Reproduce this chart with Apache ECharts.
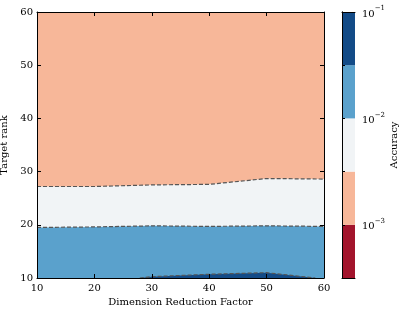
<!DOCTYPE html>
<html><head><meta charset="utf-8">
<script src="https://cdn.jsdelivr.net/npm/echarts@6/dist/echarts.min.js"></script>
<style>html,body{margin:0;padding:0;background:#fff}#c{width:407px;height:315px}</style>
</head><body><div id="c"></div>
<script>
// x positions of contour samples
const xTicks = [10, 20, 30, 40, 50, 60];
const yTicks = [10, 20, 30, 40, 50, 60];
// contour boundary: 10^-2.5 level (salmon above / white below)
const boundaryHigh = [[10, 27.2], [20, 27.2], [30, 27.5], [40, 27.6], [50, 28.7], [60, 28.6]];
// contour boundary: 10^-2 level (white above / light blue below)
const boundaryMid = [[10, 19.5], [20, 19.6], [30, 19.8], [40, 19.7], [50, 19.8], [60, 19.7]];
// contour boundary: 10^-1.5 level (dark blue region at bottom)
const boundaryLow = [[27.9, 10], [30, 10.25], [40, 10.7], [50, 11.0], [58.5, 10]];
// colorbar levels (log10 of accuracy)
const cbLevels = [-3.5, -3, -2.5, -2, -1.5, -1];
const cbColors = ['#a2142c', '#f7b799', '#f1f4f6', '#5aa1cc', '#134b87'];
const xName = 'Dimension Reduction Factor';
const yName = 'Target rank';
const cbName = 'Accuracy';

const FONT = 'DejaVu Serif';
const FS = 10;
const ch = echarts.init(document.getElementById('c'), null, {renderer: 'canvas'});
const supMap = {'-1': '−1', '-2': '−2', '-3': '−3'};
const dash = [4, 2];
const lineCol = '#555';
const lw = 1.2;

const cbMarks = [];
for (let i = 0; i < cbColors.length; i++) {
  cbMarks.push([{yAxis: cbLevels[i], itemStyle: {color: cbColors[i]}}, {yAxis: cbLevels[i + 1]}]);
}
const plainLine = {show: true, lineStyle: {color: '#000', width: 1}};

ch.setOption({
  animation: false,
  textStyle: {fontFamily: FONT},
  grid: [
    {left: 37, right: 83, top: 12, bottom: 37, show: true, backgroundColor: cbColors[1], borderWidth: 0, outerBoundsMode: 'none', containLabel: false},
    {left: 342, right: 52, top: 12, bottom: 37, show: false, outerBoundsMode: 'none', containLabel: false}
  ],
  xAxis: [
    {gridIndex: 0, type: 'value', min: 10, max: 60, interval: 10, z: 10,
     axisLine: plainLine, axisTick: {inside: true, length: 4, lineStyle: {color: '#000'}},
     axisLabel: {color: '#000', fontSize: FS, fontFamily: FONT, margin: 5}, splitLine: {show: false},
     name: xName, nameLocation: 'middle', nameGap: 19, nameTextStyle: {color: '#000', fontSize: FS, fontFamily: FONT}},
    {gridIndex: 0, type: 'value', position: 'top', min: 10, max: 60, interval: 10, z: 10,
     axisLine: plainLine, axisTick: {inside: true, length: 4, lineStyle: {color: '#000'}},
     axisLabel: {show: false}, splitLine: {show: false}},
    {gridIndex: 1, type: 'value', min: 0, max: 1, z: 10, axisLine: plainLine, axisTick: {show: false}, axisLabel: {show: false}, splitLine: {show: false}},
    {gridIndex: 1, type: 'value', position: 'top', min: 0, max: 1, z: 10, axisLine: plainLine, axisTick: {show: false}, axisLabel: {show: false}, splitLine: {show: false}}
  ],
  yAxis: [
    {gridIndex: 0, type: 'value', min: 10, max: 60, interval: 10, z: 10,
     axisLine: plainLine, axisTick: {show: true, inside: true, length: 4, lineStyle: {color: '#000'}},
     axisLabel: {color: '#000', fontSize: FS, fontFamily: FONT, margin: 4}, splitLine: {show: false},
     name: yName, nameLocation: 'middle', nameRotate: 90, nameGap: 20, nameTextStyle: {color: '#000', fontSize: FS, fontFamily: FONT}},
    {gridIndex: 0, type: 'value', position: 'right', min: 10, max: 60, interval: 10, z: 10,
     axisLine: plainLine, axisTick: {show: true, inside: true, length: 4, lineStyle: {color: '#000'}},
     axisLabel: {show: false}, splitLine: {show: false}},
    {gridIndex: 1, type: 'value', position: 'right', min: -3.5, max: -1, interval: 0.5, z: 10,
     axisLine: plainLine, axisTick: {show: true, length: 3, lineStyle: {color: '#000'}},
     axisLabel: {color: '#000', fontSize: FS, fontFamily: FONT, margin: 7,
       formatter: v => (Math.abs(v - Math.round(v)) < 1e-6) ? '{b|10}{s|' + supMap[String(Math.round(v))] + '}' : '',
       rich: {b: {fontSize: FS, fontFamily: FONT, color: '#000', lineHeight: 14, verticalAlign: 'bottom'},
              s: {fontSize: 7, fontFamily: FONT, color: '#000', lineHeight: 14, verticalAlign: 'top'}}},
     splitLine: {show: false},
     name: cbName, nameLocation: 'middle', nameRotate: 90, nameGap: 30, nameTextStyle: {color: '#000', fontSize: FS, fontFamily: FONT}},
    {gridIndex: 1, type: 'value', position: 'left', min: -3.5, max: -1, z: 10,
     axisLine: plainLine, axisTick: {show: false}, axisLabel: {show: false}, splitLine: {show: false}}
  ],
  series: [
    {type: 'line', xAxisIndex: 0, yAxisIndex: 0, data: boundaryHigh, symbol: 'none', z: 2,
     lineStyle: {color: lineCol, width: lw, type: dash}, areaStyle: {color: cbColors[2], opacity: 1, origin: 'start'}},
    {type: 'line', xAxisIndex: 0, yAxisIndex: 0, data: boundaryMid, symbol: 'none', z: 3,
     lineStyle: {color: lineCol, width: lw, type: dash}, areaStyle: {color: cbColors[3], opacity: 1, origin: 'start'}},
    {type: 'line', xAxisIndex: 0, yAxisIndex: 0, data: boundaryLow, symbol: 'none', z: 4,
     lineStyle: {color: lineCol, width: lw, type: dash}, areaStyle: {color: cbColors[4], opacity: 1, origin: 'start'}},
    {type: 'line', xAxisIndex: 2, yAxisIndex: 2, data: [], symbol: 'none',
     markArea: {silent: true, data: cbMarks}}
  ]
});
</script></body></html>
